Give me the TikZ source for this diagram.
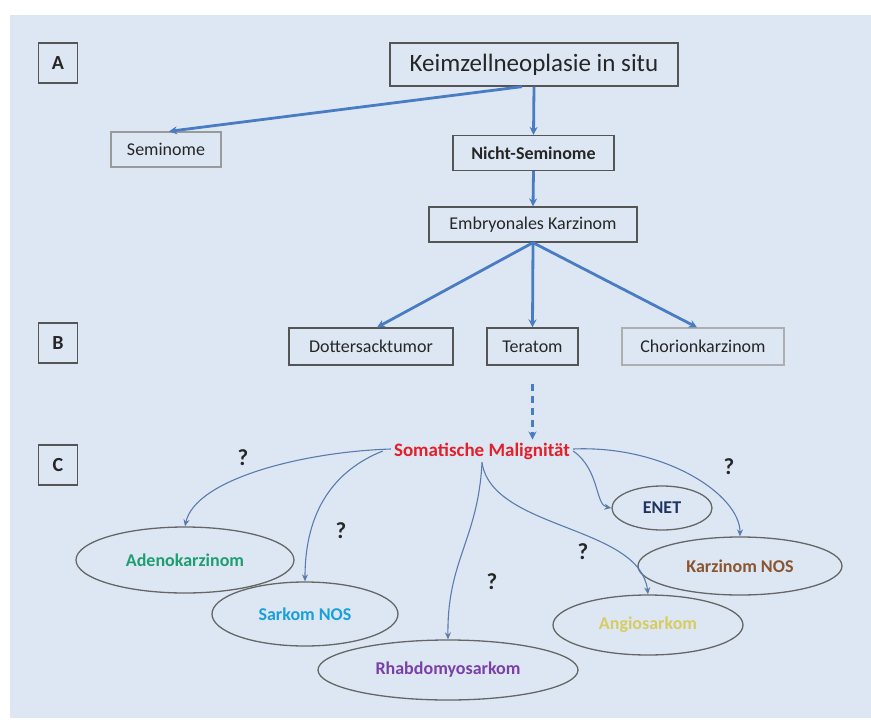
\documentclass[tikz,border=0pt]{standalone}
\usepackage{fontspec}
\setmainfont{Carlito}
\usetikzlibrary{arrows.meta,shapes.geometric,calc}
\definecolor{bg}{HTML}{DDE7F3}
\definecolor{arrowblue}{HTML}{4A7CC4}
\definecolor{thinblue}{HTML}{5B7BAE}
\definecolor{boxgray}{HTML}{555555}
\definecolor{lightgray}{HTML}{9A9A9A}
\definecolor{txt}{HTML}{262626}
\definecolor{somred}{HTML}{E3202A}
\definecolor{adeno}{HTML}{1E9E6E}
\definecolor{sarkom}{HTML}{1A9FDD}
\definecolor{rhabdo}{HTML}{7A3FA8}
\definecolor{angio}{HTML}{D6CC62}
\definecolor{karz}{HTML}{8A5530}
\definecolor{enet}{HTML}{1F3460}
\tikzset{
  box/.style={draw=boxgray, line width=1.3pt, inner sep=0pt, minimum height=35pt, text=txt, font=\fontsize{18}{20}\selectfont},
  lbl/.style={draw=boxgray, line width=1.3pt, inner sep=0pt, minimum width=39pt, minimum height=40pt, text=txt, font=\fontsize{20}{22}\selectfont\bfseries},
  ell/.style={draw=boxgray!90, line width=1.3pt, ellipse, inner sep=0pt, font=\fontsize{18}{20}\selectfont\bfseries},
  thick arr/.style={draw=arrowblue, line width=2.8pt, -{Stealth[length=8pt,width=8pt]}},
  thin arr/.style={draw=thinblue, line width=1.1pt, -{Stealth[length=7pt,width=6pt]}},
  qm/.style={text=txt, font=\fontsize{23}{25}\selectfont\bfseries}
}
\begin{document}
\begin{tikzpicture}[x=1pt,y=-1pt]
\useasboundingbox (0,0) rectangle (871,726);
\fill[bg] (10,15) rectangle (871,718);

% section labels
\node[lbl] (A) at (58,63) {A};
\node[lbl] (B) at (58,343) {B};
\node[lbl] (C) at (58,465) {C};

% boxes
\node[box, minimum width=288pt, minimum height=43pt, font=\fontsize{25}{28}\selectfont] (keim) at (534,64.5) {Keimzellneoplasie in situ};
\node[box, draw=lightgray, minimum width=110pt] (sem) at (166,149.5) {Seminome};
\node[box, minimum width=161pt, font=\fontsize{18}{20}\selectfont\bfseries] (nsem) at (533.5,153) {Nicht-Seminome};
\node[box, minimum width=208pt] (emb) at (533,224.5) {Embryonales Karzinom};
\node[box, minimum width=164pt, minimum height=37pt] (dot) at (371,346.5) {Dottersacktumor};
\node[box, minimum width=91pt, minimum height=37pt] (ter) at (532.5,346.5) {Teratom};
\node[box, draw=lightgray!80, minimum width=162pt, minimum height=37pt] (cho) at (703,346.5) {Chorionkarzinom};

% somatic
\node[text=somred, font=\fontsize{19}{21}\selectfont\bfseries, inner sep=3pt] (som) at (482,451) {Somatische Malignität};

% ellipses
\node[ell, text=adeno, minimum width=218pt, minimum height=66pt] (ade) at (185,560) {Adenokarzinom};
\node[ell, text=sarkom, minimum width=186pt, minimum height=64pt] (sar) at (305,614) {Sarkom NOS};
\node[ell, text=rhabdo, minimum width=260pt, minimum height=60pt] (rha) at (448,670) {Rhabdomyosarkom};
\node[ell, text=angio, minimum width=190pt, minimum height=60pt] (ang) at (648,625) {Angiosarkom};
\node[ell, text=karz, minimum width=204pt, minimum height=58pt] (kar) at (740,566) {Karzinom NOS};
\node[ell, text=enet, minimum width=100pt, minimum height=44pt] (ene) at (662,508) {ENET};

% thick arrows
\draw[thick arr] ([xshift=-12pt]keim.south) -- ([xshift=3pt]sem.north);
\draw[thick arr] (keim.south) -- (nsem.north);
\draw[thick arr] (nsem.south) -- (emb.south |- emb.north);
\draw[thick arr] (emb.south) -- ([xshift=6pt]dot.north);
\draw[thick arr] (emb.south) -- (ter.north);
\draw[thick arr] (emb.south) -- ([xshift=-6pt]cho.north);
\draw[draw=arrowblue, line width=2.4pt, dash pattern=on 7pt off 5pt, -{Stealth[length=8pt,width=8pt]}]
  ([yshift=-18pt]ter.south) -- (ter.south |- som.north);

% thin curved arrows
\draw[thin arr] ([yshift=2pt]som.west) .. controls (300,452) and (195,480) .. (ade.north);
\draw[thin arr] ([xshift=-8pt]som.west) .. controls (335,470) and (305,510) .. (sar.north);
\draw[thin arr] (som.south) .. controls (478,540) and (447,560) .. (rha.north);
\draw[thin arr] (som.south) .. controls (492,530) and (640,525) .. (ang.north);
\draw[thin arr] (som.east) .. controls (600,470) and (595,505) .. (ene.west);
\draw[thin arr] ([yshift=2pt]som.east) .. controls (665,445) and (740,495) .. (kar.north);

% question marks
\node[qm] (q1) at (243,458) {?};
\node[qm] (q2) at (341,531) {?};
\node[qm] (q3) at (492,582) {?};
\node[qm] (q4) at (583,552) {?};
\node[qm] (q5) at (729,467) {?};
\end{tikzpicture}
\end{document}
